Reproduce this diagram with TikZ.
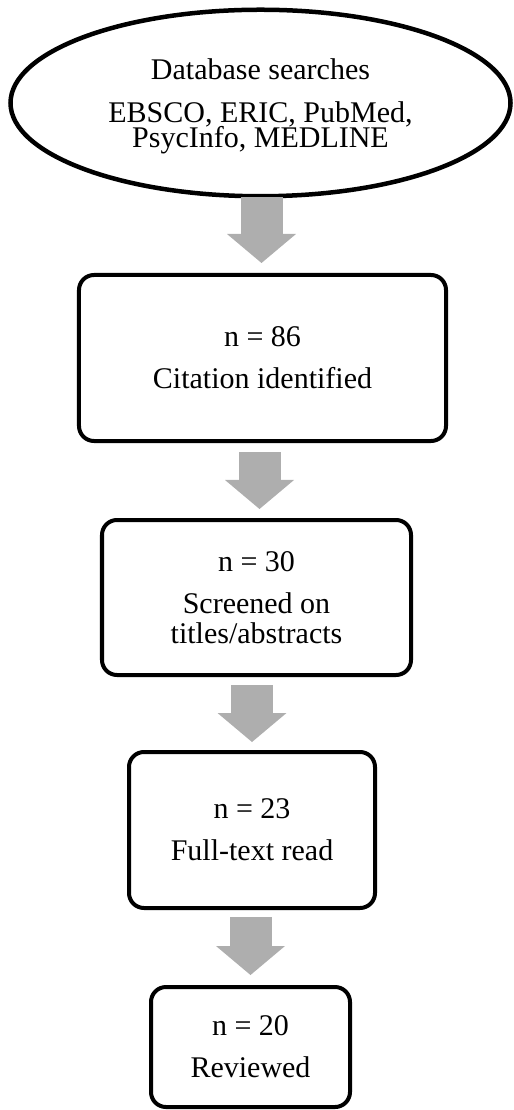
\documentclass[tikz,border=0pt]{standalone}
\usepackage{fontspec}
\setmainfont{Liberation Serif}
\usetikzlibrary{shapes.geometric,arrows.meta}
\definecolor{arrowgray}{RGB}{174,174,174}
\newcommand\myboxfont{\fontsize{12}{12}\selectfont\lineskiplimit=-20pt\relax}
\newcommand\myovalfont{\fontsize{12}{10}\selectfont\lineskiplimit=-20pt\relax}
\begin{document}
\begin{tikzpicture}[x=0.4pt,y=-0.4pt,
  box/.style={draw, line width=1.6pt, rounded corners=6pt, align=center, inner sep=0pt,
    outer sep=0pt, font=\myboxfont},
  oval/.style={ellipse, draw, line width=1.8pt, align=center, inner sep=0pt,
    outer sep=0pt, font=\myovalfont},
  blockarrow/.style={draw=arrowgray, line width=16.8pt,
    -{Triangle[length=11.6pt,width=27.6pt,line width=0pt]}}]
\useasboundingbox (0,0) rectangle (513,1110);

\node[oval, minimum width=200pt, minimum height=74.6pt] (db) at (260.5,103)
  {\rule{0pt}{10.6pt}Database searches\\[7.2pt]EBSCO, ERIC, PubMed,\\PsycInfo, MEDLINE};
\node[box, minimum width=146.8pt, minimum height=66.4pt] (b1) at (262.5,358)
  {n = 86\\[4.8pt]Citation identified};
\node[box, minimum width=123.6pt, minimum height=62pt] (b2) at (256.5,597.5)
  {n = 30\\[4.8pt]Screened on\\titles/abstracts};
\node[box, minimum width=98.4pt, minimum height=62.4pt] (b3) at (252,830)
  {n = 23\\[4.8pt]Full-text read};
\node[box, minimum width=79.6pt, minimum height=48pt] (b4) at (250.5,1047)
  {n = 20\\[4.8pt]Reviewed};

\path (db.south) -- (b1.north) coordinate[pos=.5] (m1);
\path (b1.south) -- (b2.north) coordinate[pos=.5] (m2);
\draw[blockarrow, shorten <=0.4pt, shorten >=4.8pt] (m1 |- db.south) -- (m1 |- b1.north);
\draw[blockarrow, shorten <=4.4pt, shorten >=4.4pt] (m2 |- b1.south) -- (m2 |- b2.north);
\draw[blockarrow, shorten <=4pt, shorten >=4pt] (b3.north |- b2.south) -- (b3.north);
\draw[blockarrow, shorten <=3.6pt, shorten >=4.8pt] (b4.north |- b3.south) -- (b4.north);
\end{tikzpicture}
\end{document}
